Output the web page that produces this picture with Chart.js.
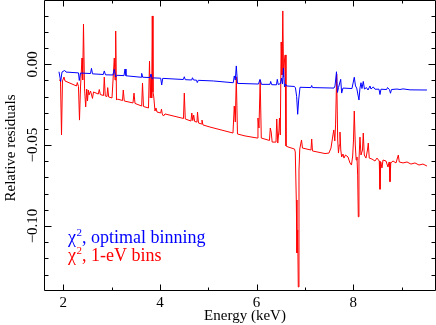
<!DOCTYPE html>
<html><head><meta charset="utf-8">
<script src="https://cdn.jsdelivr.net/npm/chart.js@4.4.1/dist/chart.umd.min.js"></script>
<style>html,body{margin:0;padding:0;background:#fff;}canvas{display:block}</style>
</head><body>
<canvas id="c" width="436" height="325"></canvas>
<script>
// ---- data (energy in keV, relative residuals) ----
const blueEnergy = [1.911,1.946,1.973,2.029,2.056,2.314,2.331,2.356,2.563,2.583,2.604,2.828,2.848,2.873,3.028,3.055,3.084,3.111,3.256,3.277,3.297,3.608,3.622,3.643,3.794,3.815,3.841,3.866,4.015,4.036,4.057,4.483,4.504,4.524,4.657,4.673,4.694,4.756,4.773,4.793,5.104,5.517,5.538,5.559,5.580,5.604,6.039,6.070,6.101,6.277,6.291,6.312,6.411,6.428,6.448,6.494,6.515,6.535,6.556,6.577,6.598,6.622,6.784,6.804,6.829,6.850,6.870,6.898,7.125,7.140,7.156,7.601,7.622,7.653,7.673,7.694,7.740,7.760,7.787,7.973,8.021,8.046,8.071,8.118,8.139,8.160,8.180,8.207,8.232,8.273,8.305,8.346,8.367,8.414,8.449,8.532,8.553,8.573,8.691,8.708,8.749,8.770,8.791,8.905,8.967,9.029,9.174,9.525];
const blueResid = [-0.0046,-0.0106,-0.0048,-0.0038,-0.0048,-0.0053,-0.0100,-0.0054,-0.0057,-0.0025,-0.0059,-0.0063,-0.0041,-0.0065,-0.0066,-0.0031,-0.0078,-0.0068,-0.0070,-0.0029,-0.0071,-0.0080,-0.0056,-0.0080,-0.0082,-0.0060,-0.0091,-0.0084,-0.0086,-0.0128,-0.0087,-0.0094,-0.0077,-0.0095,-0.0097,-0.0083,-0.0097,-0.0098,-0.0113,-0.0099,-0.0103,-0.0114,-0.0072,-0.0097,-0.0010,-0.0118,-0.0122,-0.0093,-0.0124,-0.0124,-0.0106,-0.0126,-0.0127,-0.0093,-0.0125,-0.0119,-0.0085,-0.0122,-0.0023,-0.0140,-0.0122,-0.0134,-0.0137,-0.0146,-0.0200,-0.0309,-0.0221,-0.0142,-0.0144,-0.0131,-0.0144,-0.0147,-0.0134,-0.0046,-0.0174,-0.0144,-0.0093,-0.0178,-0.0147,-0.0150,-0.0080,-0.0134,-0.0147,-0.0221,-0.0147,-0.0114,-0.0150,-0.0106,-0.0153,-0.0144,-0.0159,-0.0134,-0.0153,-0.0140,-0.0154,-0.0154,-0.0187,-0.0154,-0.0156,-0.0144,-0.0156,-0.0179,-0.0156,-0.0153,-0.0156,-0.0152,-0.0158,-0.0159];

const redEnergy = [1.911,1.942,1.963,1.983,2.014,2.035,2.273,2.290,2.314,2.335,2.356,2.387,2.401,2.418,2.439,2.463,2.484,2.501,2.517,2.532,2.563,2.604,2.625,2.724,2.745,2.766,2.832,2.848,2.869,2.904,2.919,2.939,3.008,3.055,3.070,3.084,3.101,3.121,3.225,3.241,3.262,3.442,3.463,3.484,3.622,3.639,3.659,3.763,3.784,3.800,3.815,3.829,3.841,3.856,3.872,3.897,3.918,3.939,4.015,4.032,4.048,4.073,4.104,4.487,4.504,4.524,4.642,4.659,4.679,4.698,4.719,4.766,4.777,4.797,4.859,4.870,4.890,5.035,5.511,5.538,5.559,5.580,5.604,5.760,6.014,6.028,6.049,6.074,6.097,6.266,6.283,6.302,6.322,6.401,6.417,6.438,6.463,6.473,6.490,6.508,6.525,6.542,6.558,6.577,6.591,6.608,6.649,6.784,6.800,6.821,6.835,6.850,6.862,6.877,6.893,6.929,6.949,7.125,7.140,7.156,7.415,7.497,7.539,7.580,7.597,7.618,7.634,7.657,7.678,7.694,7.711,7.725,7.742,7.760,7.787,7.808,7.839,7.891,7.932,7.963,7.988,8.005,8.021,8.042,8.060,8.077,8.091,8.104,8.118,8.139,8.160,8.191,8.207,8.228,8.263,8.294,8.311,8.331,8.387,8.449,8.491,8.538,8.553,8.569,8.594,8.615,8.677,8.718,8.743,8.760,8.776,8.822,8.884,8.932,8.952,9.029,9.112,9.194,9.277,9.360,9.442,9.525];
const redResid = [-0.0097,-0.0100,-0.0437,-0.0103,-0.0079,-0.0103,-0.0134,-0.0113,-0.0137,-0.0345,-0.0140,0.0039,-0.0097,0.0249,-0.0147,-0.0264,-0.0153,-0.0227,-0.0159,-0.0190,-0.0165,-0.0211,-0.0171,-0.0184,-0.0156,-0.0187,-0.0193,-0.0079,-0.0196,-0.0199,-0.0144,-0.0202,-0.0208,0.0039,-0.0097,0.0206,-0.0221,-0.0215,-0.0224,-0.0159,-0.0227,-0.0239,-0.0178,-0.0242,-0.0258,-0.0116,-0.0261,-0.0270,0.0020,-0.0208,-0.0066,-0.0208,0.0299,-0.0171,-0.0202,-0.0289,-0.0270,-0.0295,-0.0301,-0.0277,-0.0307,-0.0320,-0.0307,-0.0335,-0.0178,-0.0338,-0.0351,-0.0301,-0.0348,-0.0314,-0.0354,-0.0357,-0.0295,-0.0363,-0.0369,-0.0345,-0.0375,-0.0388,-0.0425,-0.0258,-0.0357,-0.0078,-0.0431,-0.0443,-0.0456,-0.0332,-0.0394,-0.0097,-0.0456,-0.0471,-0.0394,-0.0419,-0.0481,-0.0481,-0.0338,-0.0487,-0.0406,-0.0332,-0.0437,0.0138,-0.0066,0.0330,-0.0079,0.0027,0.0058,-0.0505,-0.0511,-0.0524,-0.0542,-0.0839,-0.1167,-0.1025,-0.1377,-0.0654,-0.0524,-0.0468,-0.0518,-0.0530,-0.0462,-0.0536,-0.0552,-0.0549,-0.0518,-0.0437,-0.0406,-0.0474,-0.0375,-0.0060,-0.0468,-0.0549,-0.0499,-0.0419,-0.0530,-0.0573,-0.0555,-0.0580,-0.0561,-0.0573,-0.0610,-0.0623,-0.0567,-0.0468,-0.0289,-0.0499,-0.0592,-0.0573,-0.0685,-0.0943,-0.0592,-0.0450,-0.0561,-0.0530,-0.0425,-0.0561,-0.0580,-0.0530,-0.0487,-0.0580,-0.0586,-0.0598,-0.0580,-0.0598,-0.0773,-0.0604,-0.0641,-0.0592,-0.0598,-0.0635,-0.0604,-0.0726,-0.0610,-0.0598,-0.0610,-0.0561,-0.0604,-0.0610,-0.0604,-0.0617,-0.0610,-0.0623,-0.0617,-0.0629];

const xMajorTicks = [2, 4, 6, 8];
const xMajorLabels = ['2', '4', '6', '8'];
const xMinorTicks = [3, 5, 7, 9];
const yMajorTicks = [0, -0.05, -0.10];
const yMajorLabels = ['0.00', '\u22120.05', '\u22120.10'];
const yMinorTicks = [0.03, 0.02, 0.01, -0.01, -0.02, -0.03, -0.04, -0.06, -0.07, -0.08, -0.09, -0.11, -0.12, -0.13];
const seriesNames = ['optimal binning', '1-eV bins'];
const xTitle = 'Energy (keV)';
const yTitle = 'Relative residuals';

const toPts = (xs, ys) => xs.map((x, i) => ({x: x, y: ys[i]}));

const framePlugin = {
  id: 'frame',
  afterDraw(chart) {
    const ctx = chart.ctx, a = chart.chartArea;
    const sx = chart.scales.x, sy = chart.scales.y;
    const L = 44.5, R = 435.5, T = 0.5, B = 290.5;
    ctx.save();
    ctx.strokeStyle = '#000';
    ctx.lineWidth = 1;
    ctx.beginPath();
    ctx.moveTo(L, T); ctx.lineTo(R, T); ctx.lineTo(R, B); ctx.lineTo(L, B); ctx.closePath();
    // x ticks
    const xt = (v, len) => {
      const p = Math.round(sx.getPixelForValue(v)) + 0.5;
      ctx.moveTo(p, B); ctx.lineTo(p, B - len);
      ctx.moveTo(p, T); ctx.lineTo(p, T + len);
    };
    xMajorTicks.forEach(v => xt(v, 6));
    xMinorTicks.forEach(v => xt(v, 3));
    const yt = (v, len) => {
      const p = Math.round(sy.getPixelForValue(v)) + 0.5;
      ctx.moveTo(L, p); ctx.lineTo(L + len, p);
      ctx.moveTo(R, p); ctx.lineTo(R - len, p);
    };
    yMajorTicks.forEach(v => yt(v, 7));
    yMinorTicks.forEach(v => yt(v, 4));
    ctx.stroke();

    ctx.fillStyle = '#000';
    ctx.font = '15px "Liberation Serif", "Times New Roman", serif';
    ctx.textAlign = 'center';
    ctx.textBaseline = 'alphabetic';
    xMajorTicks.forEach((v, i) => {
      ctx.fillText(xMajorLabels[i], sx.getPixelForValue(v), 306.5);
    });
    yMajorTicks.forEach((v, i) => {
      ctx.save();
      ctx.translate(36.5, sy.getPixelForValue(v));
      ctx.rotate(-Math.PI / 2);
      ctx.fillText(yMajorLabels[i], 0, 0);
      ctx.restore();
    });
    ctx.fillText(xTitle, 245, 319.5);
    ctx.save();
    ctx.translate(15, 148);
    ctx.rotate(-Math.PI / 2);
    ctx.fillText(yTitle, 0, 0);
    ctx.restore();

    // legend text
    const drawLeg = (name, color, x, y) => {
      ctx.fillStyle = color;
      ctx.textAlign = 'left';
      ctx.font = '18px "Liberation Serif", "Times New Roman", serif';
      ctx.fillText('\u03c7', x, y);
      let w = ctx.measureText('\u03c7').width;
      ctx.font = '11px "Liberation Serif", "Times New Roman", serif';
      ctx.fillText('2', x + w + 0.5, y - 7);
      const w2 = ctx.measureText('2').width;
      ctx.font = '18px "Liberation Serif", "Times New Roman", serif';
      ctx.fillText(', ' + name, x + w + w2 + 0.5, y);
    };
    drawLeg(seriesNames[0], '#0000ff', 68, 243);
    drawLeg(seriesNames[1], '#ff0000', 68, 261);
    ctx.restore();
  }
};

new Chart(document.getElementById('c'), {
  type: 'line',
  data: {
    datasets: [
      {label: seriesNames[0], data: toPts(blueEnergy, blueResid), borderColor: '#0000ff', borderWidth: 1, pointRadius: 0, tension: 0, fill: false},
      {label: seriesNames[1], data: toPts(redEnergy, redResid), borderColor: '#ff0000', borderWidth: 1, pointRadius: 0, tension: 0, fill: false}
    ]
  },
  options: {
    responsive: false,
    animation: false,
    devicePixelRatio: 1,
    events: [],
    layout: {padding: {left: 44, right: 0, top: 0, bottom: 35}},
    plugins: {legend: {display: false}, tooltip: {enabled: false}, title: {display: false}},
    scales: {
      x: {type: 'linear', min: 1.6007, max: 9.712, display: false},
      y: {type: 'linear', min: -0.13958, max: 0.03977, display: false}
    }
  },
  plugins: [framePlugin]
});
</script>
</body></html>
